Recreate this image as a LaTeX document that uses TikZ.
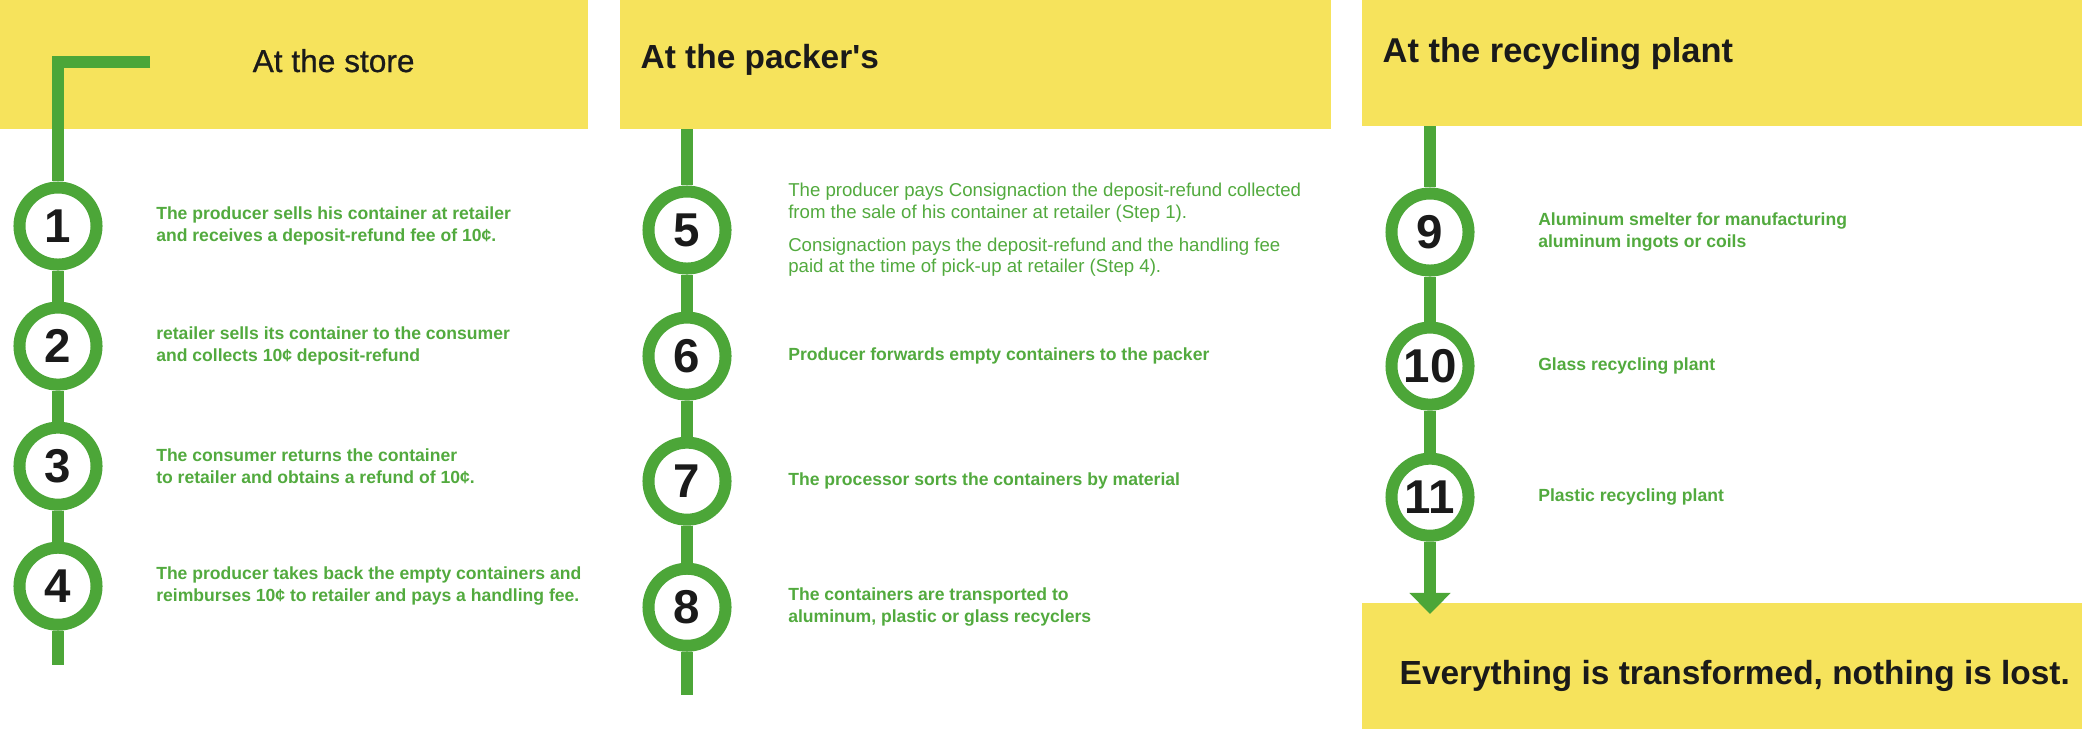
\documentclass[tikz,border=0pt]{standalone}
\usepackage{fontspec}
\setmainfont{Liberation Sans}
\newfontfamily\storefont{Liberation Sans}[FakeBold=0.7]
\usepackage{xcolor}
\usetikzlibrary{arrows.meta,positioning}

\definecolor{leafgreen}{RGB}{76,166,56}
\definecolor{textgreen}{RGB}{82,170,62}
\definecolor{signyellow}{RGB}{246,227,92}
\definecolor{inkblack}{RGB}{26,26,26}

\begin{document}
\begin{tikzpicture}[x=0.01cm,y=-0.01cm,>={Triangle[width=11.4pt,length=6pt]}]
	\tikzset{panel/.style={fill=signyellow, rectangle, anchor=north west, inner sep=0pt, outer sep=0pt},
		stepcircle/.style={draw=leafgreen, fill=white, circle, line width=0.12cm, minimum size=0.77cm, inner sep=0pt,
			text=inkblack, font=\fontsize{13.5}{14}\selectfont\bfseries},
		track/.style={draw=leafgreen, line width=0.115cm},
		steptext/.style={text=textgreen, align=left, anchor=west, inner sep=0pt, font=\fontsize{5}{6.3}\selectfont\bfseries},
		headtitle/.style={anchor=base west, inner sep=0pt, text=inkblack, font=\fontsize{9.5}{11}\selectfont\bfseries},
	}
	\useasboundingbox (0,0) rectangle (2082,729);
	
	%% yellow bands
	\node[panel, minimum width=5.88cm, minimum height=1.29cm] (store) at (0,0) {};
	\node[panel, minimum width=7.11cm, minimum height=1.29cm] (packer) at (620,0) {};
	\node[panel, minimum width=7.20cm, minimum height=1.26cm] (plant) at (1362,0) {};
	\node[panel, minimum width=7.20cm, minimum height=1.26cm] (lost) at (1362,603) {};
	
	\node[headtitle, font=\fontsize{9}{11}\selectfont\storefont] (storetitle) at (252,72) {At the store};
	\node[headtitle] (packertitle) at (640,68) {At the packer\textquotesingle s};
	\node[headtitle, font=\fontsize{9.8}{11}\selectfont\bfseries] (planttitle) at (1382,62) {At the recycling plant};
	\node[headtitle] (losttitle) at (1399,684) {Everything is transformed, nothing is lost.};
	
	%% at the store
	\node[stepcircle] (s1) at (58,226) {1};
	\node[stepcircle, below=0.31cm of s1] (s2) {2};
	\node[stepcircle, below=0.31cm of s2] (s3) {3};
	\node[stepcircle, below=0.31cm of s3] (s4) {4};
	\node[steptext, right=0.53cm of s1] (t1) {The producer sells his container at retailer\\and receives a deposit-refund fee of 10¢.};
	\node[steptext, right=0.53cm of s2] (t2) {retailer sells its container to the consumer\\and collects 10¢ deposit-refund};
	\node[steptext, right=0.53cm of s3] (t3) {The consumer returns the container\\to retailer and obtains a refund of 10¢.};
	\node[steptext, right=0.53cm of s4] (t4) {The producer takes back the empty containers and\\reimburses 10¢ to retailer and pays a handling fee.};
	
	%% at the packer's
	\node[stepcircle] (s5) at (687,230) {5};
	\node[stepcircle, below=0.37cm of s5] (s6) {6};
	\node[stepcircle, below=0.36cm of s6] (s7) {7};
	\node[stepcircle, below=0.37cm of s7] (s8) {8};
	\node[steptext, font=\fontsize{5.3}{6.2}\selectfont, right=0.56cm of s5] (t5) {The producer pays Consignaction the deposit-refund collected\\from the sale of his container at retailer (Step 1).\\[3pt]Consignaction pays the deposit-refund and the handling fee\\paid at the time of pick-up at retailer (Step 4).};
	\node[steptext, right=0.56cm of s6] (t6) {Producer forwards empty containers to the packer};
	\node[steptext, right=0.56cm of s7] (t7) {The processor sorts the containers by material};
	\node[steptext, right=0.56cm of s8] (t8) {The containers are transported to\\aluminum, plastic or glass recyclers};
	
	%% at the recycling plant
	\node[stepcircle] (s9) at (1430,232) {9};
	\node[stepcircle, below=0.45cm of s9] (s10) {10};
	\node[stepcircle, below=0.42cm of s10] (s11) {11};
	\node[steptext, right=0.63cm of s9] (t9) {Aluminum smelter for manufacturing\\aluminum ingots or coils};
	\node[steptext, right=0.63cm of s10] (t10) {Glass recycling plant};
	\node[steptext, right=0.63cm of s11] (t11) {Plastic recycling plant};
	
	%% paths
	\coordinate (storecorner) at (150,62);
	\coordinate (storeend) at (58,665);
	\coordinate (packertop) at (s5 |- packer.south);
	\coordinate (packerend) at (687,695);
	\coordinate (planttop) at (s9 |- plant.south);
	\coordinate (planttip) at (1430,614);
	\draw[track] (storecorner) -| (s1);
	\path[track] (s1) edge (s2)
	(s2) edge (s3)
	(s3) edge (s4)
	(s4) edge (storeend)
	(packertop) edge (s5)
	(s5) edge (s6)
	(s6) edge (s7)
	(s7) edge (s8)
	(s8) edge (packerend)
	(planttop) edge (s9)
	(s9) edge (s10)
	(s10) edge (s11)
	;
	\draw[track,->] (s11) -- (planttip);
\end{tikzpicture}
\end{document}
